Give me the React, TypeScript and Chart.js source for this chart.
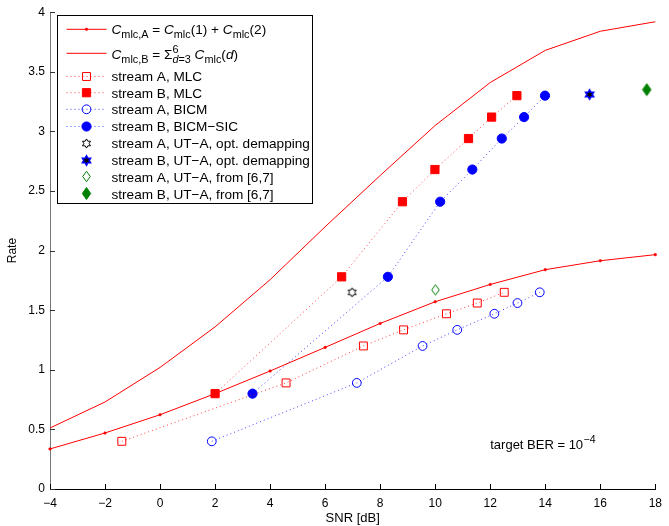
import { useEffect, useRef } from 'react';
import { Chart, registerables } from 'chart.js';

Chart.register(...registerables);

const FONT = '"Liberation Sans", Arial, Helvetica, sans-serif';

// ---------- data ----------
const xTickStep = 2;
const yTickStep = 0.5;

const snrCurve = [-4, -2, 0, 2, 4, 6, 8, 10, 12, 14, 16, 18];
const rateCmlcA = [0.336, 0.47, 0.623, 0.8, 0.99, 1.188, 1.389, 1.571, 1.716, 1.84, 1.915, 1.966];
const rateCmlcB = [0.512, 0.73, 1.02, 1.36, 1.756, 2.2, 2.63, 3.05, 3.41, 3.68, 3.84, 3.92];

const snrMlcA = [-1.39, 4.58, 7.39, 8.85, 10.41, 11.53, 12.51];
const rateStreamA = [0.4, 0.89, 1.2, 1.335, 1.47, 1.56, 1.65];
const snrMlcB = [2.0, 6.6, 8.81, 9.99, 11.21, 12.05, 12.97];
const rateStreamB = [0.8, 1.78, 2.41, 2.68, 2.94, 3.12, 3.3];
const snrBicmA = [1.88, 7.15, 9.54, 10.8, 12.15, 12.99, 13.8];
const snrBicmB = [3.36, 8.28, 10.18, 11.35, 12.42, 13.23, 13.99];

const snrUtaOptA = [6.98];
const rateUtaOptA = [1.65];
const snrUtaOptB = [15.61];
const rateUtaOptB = [3.31];
const snrUtaRefA = [10.01];
const rateUtaRefA = [1.67];
const snrUtaRefB = [17.69];
const rateUtaRefB = [3.35];

const legendLabels = [
  'C_mlc,A = C_mlc(1) + C_mlc(2)',
  'C_mlc,B = Σ C_mlc(d)',
  'stream A, MLC',
  'stream B, MLC',
  'stream A, BICM',
  'stream B, BICM\u2212SIC',
  'stream A, UT\u2212A, opt. demapping',
  'stream B, UT\u2212A, opt. demapping',
  'stream A, UT\u2212A, from [6,7]',
  'stream B, UT\u2212A, from [6,7]',
];

const berTextX = 12.0;
const berTextY = 0.335;

const RED = 'rgb(255,0,0)';
const BLUE = 'rgb(0,0,255)';
const GREEN = 'rgb(0,128,0)';

const pts = (xs: number[], ys: number[]) => xs.map((x, i) => ({ x, y: ys[i] }));

// ---------- marker images ----------
function makeHexagram(fill: string, stroke: string, lw: number) {
  const c = document.createElement('canvas');
  c.width = 13;
  c.height = 13;
  const g = c.getContext('2d')!;
  const cx = 6.5, cy = 6.5, R = 4.6, r = R / Math.sqrt(3);
  g.beginPath();
  for (let k = 0; k < 12; k++) {
    const a = -Math.PI / 2 + (k * Math.PI) / 6;
    const rr = k % 2 === 0 ? R : r;
    const px = cx + rr * Math.cos(a), py = cy + rr * Math.sin(a);
    if (k === 0) g.moveTo(px, py); else g.lineTo(px, py);
  }
  g.closePath();
  g.fillStyle = fill;
  g.fill();
  g.strokeStyle = stroke;
  g.lineWidth = lw;
  g.stroke();
  return c;
}

function makeDiamond(filled: boolean) {
  const c = document.createElement('canvas');
  c.width = 11;
  c.height = 15;
  const g = c.getContext('2d')!;
  const cx = 5.5, cy = 7.5, hw = filled ? 4.2 : 3.8, hh = filled ? 6.0 : 5.2;
  g.beginPath();
  g.moveTo(cx, cy - hh);
  g.lineTo(cx + hw, cy);
  g.lineTo(cx, cy + hh);
  g.lineTo(cx - hw, cy);
  g.closePath();
  if (filled) {
    g.fillStyle = GREEN;
    g.fill();
  } else {
    g.fillStyle = '#fff';
    g.fill();
  }
  g.strokeStyle = GREEN;
  g.lineWidth = 1;
  g.stroke();
  return c;
}

// ---------- rich text ----------
type Seg = { t?: string; it?: boolean; sub?: boolean; sup?: boolean; stack?: { sup: Seg[]; sub: Seg[] } };

function segWidth(ctx: CanvasRenderingContext2D, segs: Seg[], size: number): number {
  let w = 0;
  for (const s of segs) {
    if (s.stack) {
      w += Math.max(segWidth(ctx, s.stack.sup, size), segWidth(ctx, s.stack.sub, size));
      continue;
    }
    const fs = s.sub || s.sup ? size * 0.8 : size;
    ctx.font = `${s.it ? 'italic ' : ''}${fs}px ${FONT}`;
    w += ctx.measureText(s.t || '').width;
  }
  return w;
}

function drawRich(ctx: CanvasRenderingContext2D, segs: Seg[], x: number, y: number, size: number) {
  for (const s of segs) {
    if (s.stack) {
      const a = segWidth(ctx, s.stack.sup, size);
      const b = segWidth(ctx, s.stack.sub, size);
      drawRich(ctx, s.stack.sup, x, y, size);
      drawRich(ctx, s.stack.sub, x, y, size);
      x += Math.max(a, b);
      continue;
    }
    const fs = s.sub || s.sup ? size * 0.8 : size;
    ctx.font = `${s.it ? 'italic ' : ''}${fs}px ${FONT}`;
    const dy = s.sub ? size * 0.3 : s.sup ? -size * 0.45 : 0;
    ctx.fillText(s.t || '', x, y + dy);
    x += ctx.measureText(s.t || '').width;
  }
  return x;
}

const richRow1: Seg[] = [
  { t: 'C', it: true }, { t: 'mlc,A', sub: true }, { t: ' = ' },
  { t: 'C', it: true }, { t: 'mlc', sub: true }, { t: '(1) + ' },
  { t: 'C', it: true }, { t: 'mlc', sub: true }, { t: '(2)' },
];
const richRow2: Seg[] = [
  { t: 'C', it: true }, { t: 'mlc,B', sub: true }, { t: ' = \u03A3' },
  { stack: { sup: [{ t: '6', sup: true }], sub: [{ t: 'd', it: true, sub: true }, { t: '=3', sub: true }] } },
  { t: ' ' }, { t: 'C', it: true }, { t: 'mlc', sub: true }, { t: '(' }, { t: 'd', it: true }, { t: ')' },
];

// ---------- plugins ----------
function drawMarker(ctx: CanvasRenderingContext2D, ds: any, x: number, y: number) {
  const st = ds.pointStyle;
  const r = ds.pointRadius || 0;
  if (typeof st !== 'string') {
    ctx.drawImage(st, Math.round(x - st.width / 2), Math.round(y - st.height / 2));
    return;
  }
  if (!r) return;
  ctx.beginPath();
  if (st === 'rect') {
    const h = r * Math.SQRT1_2;
    ctx.rect(x - h, y - h, 2 * h, 2 * h);
  } else {
    ctx.arc(x, y, r, 0, Math.PI * 2);
  }
  if (ds.pointBackgroundColor && ds.pointBackgroundColor !== 'transparent') {
    ctx.fillStyle = ds.pointBackgroundColor;
    ctx.fill();
  }
  ctx.strokeStyle = ds.pointBorderColor;
  ctx.lineWidth = ds.pointBorderWidth || 1;
  ctx.setLineDash([]);
  ctx.stroke();
}

const inwardTicks = {
  id: 'inwardTicks',
  afterDatasetsDraw(chart: any) {
    const { ctx, chartArea, scales } = chart;
    const xs = scales.x, ys = scales.y;
    ctx.save();
    ctx.lineWidth = 1;
    ctx.strokeStyle = '#000';
    ctx.beginPath();
    xs.ticks.forEach((_: any, i: number) => {
      const px = Math.round(xs.getPixelForTick(i)) + 0.5;
      ctx.moveTo(px, chartArea.bottom);
      ctx.lineTo(px, chartArea.bottom - 5);
    });
    ctx.stroke();
    ctx.strokeStyle = '#333';
    ctx.beginPath();
    ys.ticks.forEach((_: any, i: number) => {
      const py = Math.round(ys.getPixelForTick(i)) + 0.5;
      ctx.moveTo(chartArea.left, py);
      ctx.lineTo(chartArea.left + 5, py);
    });
    ctx.stroke();

    // annotation: target BER
    const tx = xs.getPixelForValue(berTextX);
    const ty = ys.getPixelForValue(berTextY);
    ctx.fillStyle = '#000';
    ctx.textBaseline = 'alphabetic';
    ctx.textAlign = 'left';
    ctx.font = `13px ${FONT}`;
    const main = 'target BER = 10';
    ctx.fillText(main, tx, ty);
    const w = ctx.measureText(main).width;
    ctx.font = `10.5px ${FONT}`;
    ctx.fillText('\u22124', tx + w + 0.5, ty - 6);
    ctx.restore();
  },
};

const LEG_FONT = 13.6;

const matlabLegend = {
  id: 'matlabLegend',
  afterDraw(chart: any) {
    const { ctx, chartArea } = chart;
    const L = Math.round(chartArea.left + 7) + 0.5;
    const T = Math.round(chartArea.top + 3) + 0.5;
    const W = 255;
    const H = 188;
    ctx.save();
    ctx.fillStyle = '#fff';
    ctx.fillRect(L, T, W, H);
    ctx.strokeStyle = '#000';
    ctx.lineWidth = 1;
    ctx.setLineDash([]);
    ctx.strokeRect(L, T, W, H);
    const lineY = [13.8, 37.8, 61, 77.2, 93.8, 111, 127.8, 144.5, 161.2, 178.4];
    const baseOff = [4.2, 6, 4.8, 4.8, 4.8, 4.8, 4.8, 4.8, 4.8, 4.8];
    chart.data.datasets.forEach((ds: any, i: number) => {
      const y = T + lineY[i];
      if (ds.showLine) {
        ctx.strokeStyle = ds.borderColor;
        ctx.lineWidth = ds.borderWidth;
        ctx.setLineDash(ds.borderDash || []);
        ctx.beginPath();
        ctx.moveTo(L + 9, y);
        ctx.lineTo(L + 49, y);
        ctx.stroke();
        ctx.setLineDash([]);
      }
      drawMarker(ctx, ds, L + 29, y);
      ctx.fillStyle = '#000';
      ctx.textBaseline = 'alphabetic';
      ctx.textAlign = 'left';
      const tx = L + 54;
      const ty = y + baseOff[i];
      if (i === 0) drawRich(ctx, richRow1, tx, ty, LEG_FONT);
      else if (i === 1) drawRich(ctx, richRow2, tx, ty, LEG_FONT);
      else {
        ctx.font = `${LEG_FONT}px ${FONT}`;
        ctx.fillText(ds.label, tx, ty);
      }
    });
    ctx.restore();
  },
};

export default function App() {
  const ref = useRef<HTMLCanvasElement>(null);
  useEffect(() => {
    const hexA = makeHexagram('#fff', '#000', 1);
    const hexB = makeHexagram('#000', BLUE, 1.6);
    const diaA = makeDiamond(false);
    const diaB = makeDiamond(true);
    const dotted = [1, 3];
    const datasets: any[] = [
      {
        label: legendLabels[0], data: pts(snrCurve, rateCmlcA), showLine: true,
        borderColor: RED, borderWidth: 1, pointStyle: 'circle', pointRadius: 1.3,
        pointBackgroundColor: RED, pointBorderColor: RED, pointBorderWidth: 0.5,
      },
      {
        label: legendLabels[1], data: pts(snrCurve, rateCmlcB), showLine: true,
        borderColor: RED, borderWidth: 1, pointStyle: 'circle', pointRadius: 0,
      },
      {
        label: legendLabels[2], data: pts(snrMlcA, rateStreamA), showLine: true,
        borderColor: 'rgba(255,0,0,0.75)', borderWidth: 1, borderDash: dotted,
        pointStyle: 'rect', pointRadius: 5.6, pointBackgroundColor: 'transparent',
        pointBorderColor: RED, pointBorderWidth: 1,
      },
      {
        label: legendLabels[3], data: pts(snrMlcB, rateStreamB), showLine: true,
        borderColor: 'rgba(255,0,0,0.75)', borderWidth: 1, borderDash: dotted,
        pointStyle: 'rect', pointRadius: 5.8, pointBackgroundColor: RED,
        pointBorderColor: RED, pointBorderWidth: 1,
      },
      {
        label: legendLabels[4], data: pts(snrBicmA, rateStreamA), showLine: true,
        borderColor: 'rgba(0,0,255,0.75)', borderWidth: 1, borderDash: dotted,
        pointStyle: 'circle', pointRadius: 4.4, pointBackgroundColor: 'transparent',
        pointBorderColor: BLUE, pointBorderWidth: 1,
      },
      {
        label: legendLabels[5], data: pts(snrBicmB, rateStreamB), showLine: true,
        borderColor: 'rgba(0,0,255,0.75)', borderWidth: 1, borderDash: dotted,
        pointStyle: 'circle', pointRadius: 4.6, pointBackgroundColor: BLUE,
        pointBorderColor: BLUE, pointBorderWidth: 1,
      },
      {
        label: legendLabels[6], data: pts(snrUtaOptA, rateUtaOptA), showLine: false,
        pointStyle: hexA, pointRadius: 5,
      },
      {
        label: legendLabels[7], data: pts(snrUtaOptB, rateUtaOptB), showLine: false,
        pointStyle: hexB, pointRadius: 5,
      },
      {
        label: legendLabels[8], data: pts(snrUtaRefA, rateUtaRefA), showLine: false,
        pointStyle: diaA, pointRadius: 5,
      },
      {
        label: legendLabels[9], data: pts(snrUtaRefB, rateUtaRefB), showLine: false,
        pointStyle: diaB, pointRadius: 5,
      },
    ].map((d) => ({ ...d, clip: false, fill: false, tension: 0 }));

    const chart = new Chart(ref.current!, {
      type: 'scatter',
      data: { datasets },
      options: {
        animation: false,
        responsive: false,
        events: [],
        layout: { padding: { top: 12, right: 10, left: 0, bottom: 0 } },
        plugins: { legend: { display: false }, tooltip: { enabled: false } },
        scales: {
          x: {
            type: 'linear', min: -4, max: 18,
            afterFit: (s: any) => { s.height = 37; },
            ticks: {
              stepSize: xTickStep, color: '#000', padding: 7,
              font: { family: FONT, size: 12 },
              callback: (v: any) => String(v).replace('-', '\u2212'),
            },
            grid: { display: true, drawOnChartArea: false, drawTicks: false, color: 'rgba(0,0,0,0)' },
            border: { display: true, color: '#000', width: 1 },
            title: { display: true, text: 'SNR [dB]', color: '#000', font: { family: FONT, size: 13 }, padding: { top: 0, bottom: 0 } },
          },
          y: {
            type: 'linear', min: 0, max: 4,
            afterFit: (s: any) => { s.width = 50; },
            ticks: {
              stepSize: yTickStep, color: '#000', padding: 5,
              font: { family: FONT, size: 12 },
              callback: (v: any) => String(Math.round(Number(v) * 10) / 10),
            },
            grid: { display: true, drawOnChartArea: false, drawTicks: false, color: 'rgba(0,0,0,0)' },
            border: { display: true, color: '#777', width: 1 },
            title: { display: true, text: 'Rate', color: '#000', font: { family: FONT, size: 12 }, padding: { top: 5, bottom: 0 } },
          },
        },
      },
      plugins: [inwardTicks, matlabLegend],
    } as any);
    return () => chart.destroy();
  }, []);
  return (
    <div style={{ position: 'absolute', left: 0, top: 0, width: 669, height: 526, background: '#fff' }}>
      <canvas ref={ref} width={669} height={526} style={{ display: 'block', width: 669, height: 526 }} />
    </div>
  );
}
